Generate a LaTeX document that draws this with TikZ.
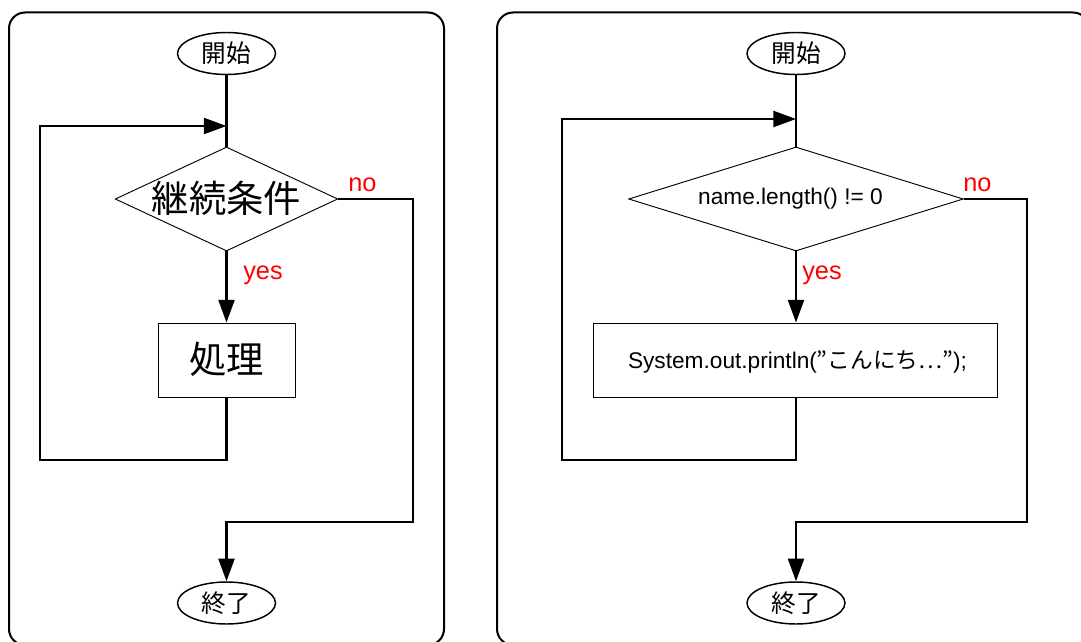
\documentclass[tikz,border=0pt]{standalone}
\usepackage{fontspec}
\setmainfont{Liberation Sans}
\newfontfamily\jp{Noto Sans CJK JP}
\newfontfamily\jpfw[RawFeature=+fwid]{Noto Sans CJK JP}
\usetikzlibrary{shapes.geometric,arrows.meta}
\tikzset{
  panel/.style={draw, line width=1.5pt, rounded corners=12pt},
  term/.style={ellipse, draw, line width=1.1pt, minimum width=73.5pt, minimum height=31.5pt, inner sep=0pt, font=\jp\fontsize{18.5}{18.5}\selectfont},
  dec/.style={diamond, draw, line width=0.7pt, inner sep=0pt},
  proc/.style={rectangle, draw, line width=0.7pt, inner sep=0pt},
  bigjp/.style={font=\jp\fontsize{28}{28}\selectfont},
  flow/.style={line width=1.7pt},
  arr/.style={-{Triangle[length=17pt,width=12pt]}},
  lab/.style={text=red, font=\fontsize{19}{19}\selectfont, inner sep=0pt, anchor=base west},
  code/.style={font=\fontsize{17}{17}\selectfont, inner sep=0pt}
}
\begin{document}
\begin{tikzpicture}[x=0.75pt,y=-0.75pt]
\useasboundingbox (0,0) rectangle (1081,642);
\clip (0,0) rectangle (1081,642);
% panels
\draw[panel] (9,12.5) rectangle (444,645);
\draw[panel] (497,12.5) rectangle (1089,645);

% ---------- left flowchart ----------
\node[term] (s1) at (226.5,53.5) {開始};
\node[dec, minimum width=167pt, minimum height=78pt] (d1) at (226.5,199) {};
\node[bigjp] (d1t) at (226.5,198) {継続条件};
\node[proc, minimum width=102.75pt, minimum height=55.5pt] (p1) at (226.5,360) {};
\node[bigjp] (p1t) at (226.5,359) {処理};
\node[term] (e1) at (226.5,603) {終了};

\coordinate (j1) at (226.5,126);
\coordinate (lb1) at (40,460);
\coordinate (lt1) at (40,126);
\coordinate (n1a) at (413,199);
\coordinate (n1b) at (413,522);
\coordinate (n1c) at (226.5,522);

\draw[flow] (s1.south) -- (d1.north);
\draw[flow,arr] (d1.south) -- (p1.north);
\draw[flow,arr] (p1.south) |- (lb1) -- (lt1) -- (j1);
\draw[flow,arr] (d1.east) -- (n1a) -- (n1b) -- (n1c) -- (e1.north);

\node[lab] (no1) at (348,191) {no};
\node[lab] (yes1) at (243,279) {yes};

% ---------- right flowchart ----------
\node[term] (s2) at (796,53.5) {開始};
\node[dec, minimum width=251pt, minimum height=78pt] (d2) at (796,199) {};
\node[code] (d2t) at (790.5,199) {name.length() != 0};
\node[proc, minimum width=303pt, minimum height=55.5pt] (p2) at (795,360) {};
\node[code] (p2t) at (797.5,362) {System.out.println({\jp ”こんにち}{\jpfw …}{\jp ”});};
\node[term] (e2) at (796,603) {終了};

\coordinate (j2) at (796,119);
\coordinate (lb2) at (562,460);
\coordinate (lt2) at (562,119);
\coordinate (n2a) at (1027,199);
\coordinate (n2b) at (1027,522);
\coordinate (n2c) at (796,522);

\draw[flow] (s2.south) -- (d2.north);
\draw[flow,arr] (d2.south) -- (p2.north -| d2.south);
\draw[flow,arr] (p2.south -| d2.south) |- (lb2) -- (lt2) -- (j2);
\draw[flow,arr] (d2.east) -- (n2a) -- (n2b) -- (n2c) -- (e2.north);

\node[lab] (no2) at (963,191) {no};
\node[lab] (yes2) at (802,279) {yes};
\end{tikzpicture}
\end{document}
